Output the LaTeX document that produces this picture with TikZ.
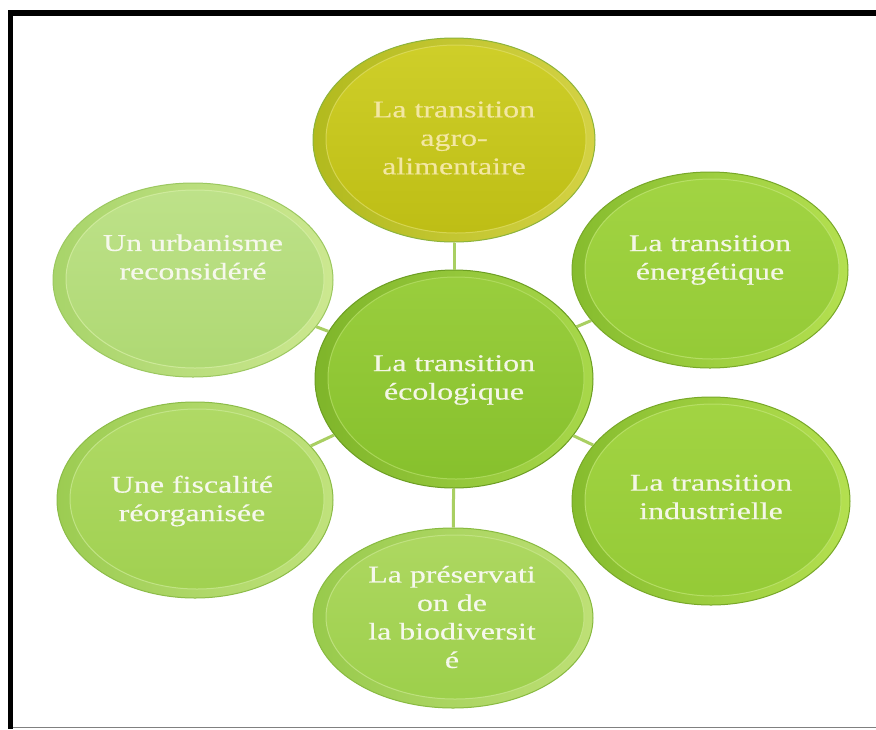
\documentclass[tikz,border=0pt]{standalone}
\usepackage{fontspec}
\setmainfont{Liberation Serif}
\newfontfamily\bubfont[FakeStretch=1.33,FakeBold=0.4]{Liberation Serif}
\usetikzlibrary{shapes.geometric}

% colour schemes: edge, ring left/right, inner top/bottom, highlight, text
\definecolor{agroedge}{HTML}{8DB33A}\definecolor{agroringL}{HTML}{B2BA1E}\definecolor{agroringR}{HTML}{D4D244}
\definecolor{agrotop}{HTML}{CFCF2A}\definecolor{agrobot}{HTML}{BDBD14}\definecolor{agrohi}{HTML}{E0DE66}\definecolor{agrotxt}{HTML}{F3E7A2}
\definecolor{midedge}{HTML}{6C9E22}\definecolor{midringL}{HTML}{7FB52A}\definecolor{midringR}{HTML}{A8D84A}
\definecolor{midtop}{HTML}{9ACE3E}\definecolor{midbot}{HTML}{86C02C}\definecolor{midhi}{HTML}{B8E06A}\definecolor{midtxt}{HTML}{F4F6E6}
\definecolor{enedge}{HTML}{78A828}\definecolor{enringL}{HTML}{86BC2E}\definecolor{enringR}{HTML}{B4E050}
\definecolor{entop}{HTML}{A2D443}\definecolor{enbot}{HTML}{94CA36}\definecolor{enhi}{HTML}{C2E676}\definecolor{entxt}{HTML}{F4F6E6}
\definecolor{urbedge}{HTML}{9CC860}\definecolor{urbringL}{HTML}{A8D46A}\definecolor{urbringR}{HTML}{CCE890}
\definecolor{urbtop}{HTML}{BEE28A}\definecolor{urbbot}{HTML}{AED872}\definecolor{urbhi}{HTML}{D8F0A8}\definecolor{urbtxt}{HTML}{F6F8EC}
\definecolor{fisedge}{HTML}{8CBC48}\definecolor{fisringL}{HTML}{9CCC52}\definecolor{fisringR}{HTML}{C0E27C}
\definecolor{fistop}{HTML}{B0DA66}\definecolor{fisbot}{HTML}{A0D050}\definecolor{fishi}{HTML}{CDEB98}\definecolor{fistxt}{HTML}{F6F8EC}
\definecolor{botedge}{HTML}{88BA40}\definecolor{botringL}{HTML}{98CA4C}\definecolor{botringR}{HTML}{BEE076}
\definecolor{bottop}{HTML}{AED862}\definecolor{botbot}{HTML}{9CCF4A}\definecolor{bothi}{HTML}{CAE890}\definecolor{bottxt}{HTML}{F6F8EC}
\definecolor{conncol}{HTML}{A9CF62}
\definecolor{framegray}{HTML}{808080}

\tikzset{
  bub/.style={ellipse, inner sep=0pt, line width=1pt},
  bubtext/.style={inner sep=0pt, align=center, font=\bubfont\fontsize{24}{28.5}\selectfont},
  conn/.style={draw=conncol, line width=3pt},
}

% #1 name, #2 x, #3 y, #4 rx, #5 ry, #6 scheme prefix
\newcommand\bubble[6]{%
  \node[bub, draw=#6edge, left color=#6ringL, right color=#6ringR,
        minimum width=2*#4pt, minimum height=2*#5pt,
        path picture={\shade[top color=#6top, bottom color=#6bot, draw=#6hi, draw opacity=0.7, line width=1pt]
          ([xshift=2pt,yshift=1pt]path picture bounding box.center)
          ellipse [x radius=#4-11, y radius=#5-8];}]
    (#1) at (#2,#3) {};
}

\begin{document}
\begin{tikzpicture}[x=1pt,y=1pt]
\useasboundingbox (0,0) rectangle (876,-729);
\fill[white] (0,0) rectangle (876,-729);

% frame
\fill[black] (8,-10) rectangle (876,-16);
\fill[black] (8,-10) rectangle (13,-729);
\draw[framegray, line width=1pt] (13,-727.5) -- (876,-727.5);

% bubbles
\bubble{urb}{193}{-280}{140}{97}{urb}
\bubble{fis}{195}{-500}{138}{98}{fis}
\bubble{ene}{710}{-270}{138}{98}{en}
\bubble{ind}{711}{-501}{139}{104}{en}
\bubble{agro}{454}{-140}{141}{102}{agro}
\bubble{bio}{453}{-618}{140}{90}{bot}
\bubble{eco}{454}{-379}{139}{109}{mid}

% connectors
\draw[conn] (eco) -- (agro);
\draw[conn] (eco) -- (ene);
\draw[conn] (eco) -- (ind);
\draw[conn] (eco) -- (bio);
\draw[conn] (eco) -- (fis);
\draw[conn] (eco) -- (urb);

% texts
\node[bubtext, text=agrotxt] (agrot) at (454,-138) {La transition\\agro-\\alimentaire};
\node[bubtext, text=midtxt] (ecot) at (454,-380) {La transition\\écologique};
\node[bubtext, text=urbtxt] (urbt) at (193,-257) {Un urbanisme\\reconsidéré};
\node[bubtext, text=entxt] (enet) at (710,-260) {La transition\\énergétique};
\node[bubtext, text=fistxt] (fist) at (192,-501) {Une fiscalité\\réorganisée};
\node[bubtext, text=entxt] (indt) at (711,-497) {La transition\\industrielle};
\node[bubtext, text=bottxt] (biot) at (452,-617) {La préservati\\on de\\la biodiversit\\é};
\end{tikzpicture}
\end{document}
